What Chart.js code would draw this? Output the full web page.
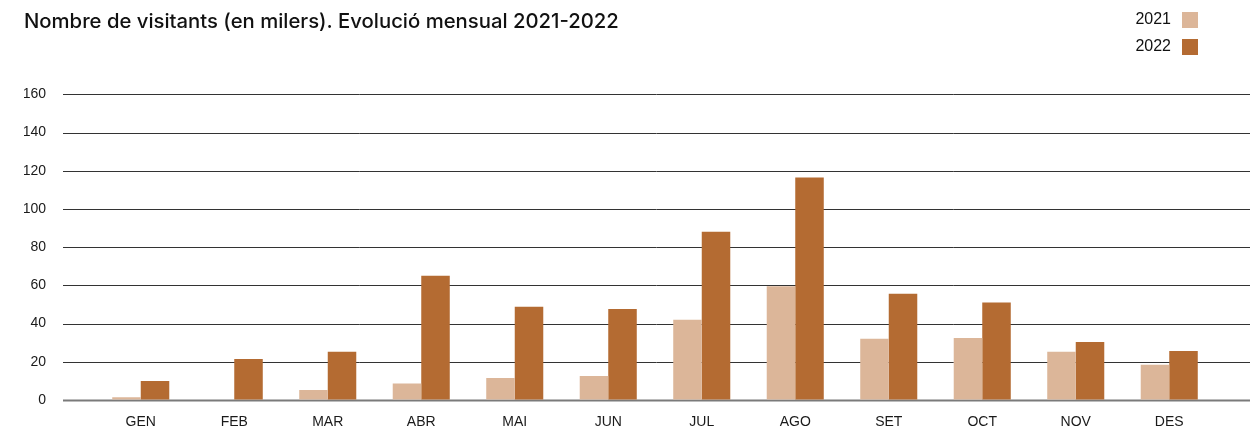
<!DOCTYPE html>
<html>
<head>
<meta charset="utf-8">
<script src="https://cdn.jsdelivr.net/npm/chart.js@4"></script>
<style>
  body { margin: 0; background: #fff; }
  canvas { display: block; }
</style>
</head>
<body>
<canvas id="bar-chart" width="1255" height="433"></canvas>
<script>
let months = ["GEN", "FEB", "MAR", "ABR", "MAI", "JUN", "JUL", "AGO", "SET", "OCT", "NOV", "DES"];
let visits2021 = [1.5, 0.3, 5.2, 8.6, 11.5, 12.6, 42, 59.5, 32, 32.5, 25.2, 18.4];
let visits2022 = [10, 21.5, 25.2, 65, 48.8, 47.7, 88.1, 116.5, 55.6, 51, 30.4, 25.7];
let yTicks = [0, 20, 40, 60, 80, 100, 120, 140, 160];

let colors = ["#dcb699", "#b46b32"];

// gridlines run wider than the bar area, so draw them by hand off the y scale
let wideGrid = {
  id: "wideGrid",
  beforeDatasetsDraw(chart) {
    let ctx = chart.ctx;
    let y = chart.scales.y;
    ctx.save();
    yTicks.forEach((t) => {
      let py = Math.round(y.getPixelForValue(t)) + 0.5;
      ctx.beginPath();
      ctx.lineWidth = t === 0 ? 2 : 1;
      ctx.strokeStyle = t === 0 ? "#7a7a7a" : "#333";
      ctx.moveTo(63, py);
      ctx.lineTo(1250, py);
      ctx.stroke();
    });
    ctx.restore();
  },
};

// legend top right: text then square
let cornerLegend = {
  id: "cornerLegend",
  afterDraw(chart) {
    let ctx = chart.ctx;
    ctx.save();
    ctx.font = "16px 'Liberation Sans', Arial, sans-serif";
    ctx.textAlign = "right";
    ctx.textBaseline = "middle";
    chart.data.datasets.forEach((ds, i) => {
      let cy = 20 + i * 27;
      ctx.fillStyle = "#111";
      ctx.fillText(ds.label, 1171, cy);
      ctx.fillStyle = ds.backgroundColor;
      ctx.fillRect(1182, cy - 8, 16, 16);
    });
    ctx.restore();
  },
};

let tickFont = { family: "'Liberation Sans', Arial, sans-serif", size: 14 };

new Chart(document.getElementById("bar-chart"), {
  type: "bar",
  data: {
    labels: months,
    datasets: [
      { label: "2021", data: visits2021, backgroundColor: colors[0] },
      { label: "2022", data: visits2022, backgroundColor: colors[1] },
    ],
  },
  options: {
    responsive: false,
    animation: false,
    layout: { padding: { left: 24, right: 39, top: 0, bottom: 3 } },
    datasets: { bar: { barPercentage: 1, categoryPercentage: 0.61 } },
    plugins: {
      legend: { display: false },
      tooltip: { enabled: false },
      title: {
        display: true,
        text: "Nombre de visitants (en milers). Evolució mensual 2021-2022",
        align: "start",
        color: "#111",
        font: { family: "Inter, sans-serif", size: 20.3, weight: "500" },
        padding: { top: 10, bottom: 60 },
      },
    },
    scales: {
      x: {
        grid: { display: false, drawTicks: false },
        border: { display: false },
        ticks: { color: "#1a1a1a", font: tickFont, padding: 14 },
        afterFit(scale) {
          scale.height = 30;
        },
      },
      y: {
        min: 0,
        max: 160,
        // invisible tick marks push the labels out to the left
        grid: { drawOnChartArea: false, drawTicks: true, tickLength: 48, tickColor: "transparent", color: "transparent" },
        border: { display: false },
        ticks: { stepSize: 20, color: "#1a1a1a", font: tickFont, padding: 0 },
        afterFit(scale) {
          scale.width = 70;
        },
      },
    },
  },
  plugins: [wideGrid, cornerLegend],
});
</script>
</body>
</html>
